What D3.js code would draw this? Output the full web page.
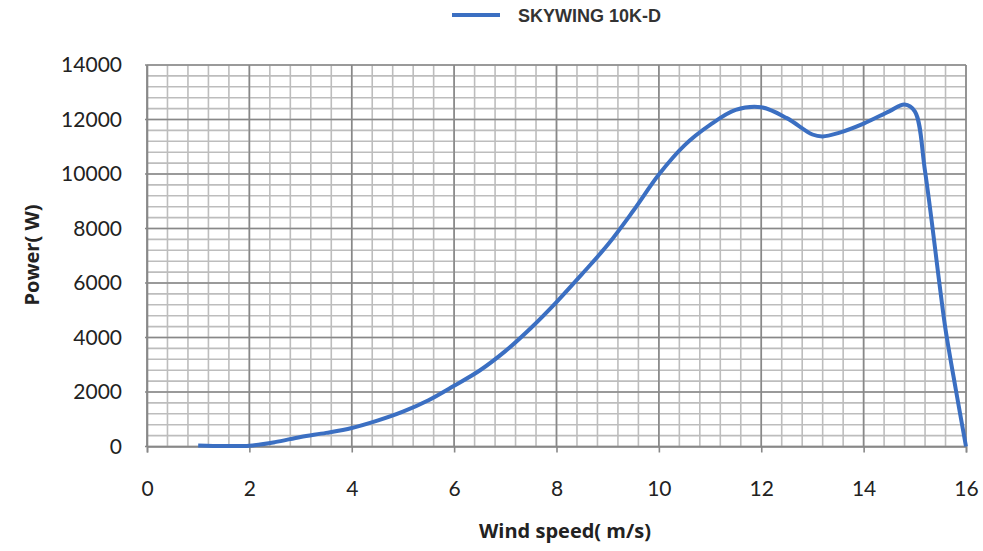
<!DOCTYPE html>
<html><head><meta charset="utf-8">
<script src="https://cdn.jsdelivr.net/npm/d3@7"></script>
<style>body{margin:0;background:#fff}svg{display:block}</style>
</head><body>
<svg id="c" width="983" height="551"></svg>
<script>
const seriesName = "SKYWING 10K-D";
const windSpeed = [1,1.5,2,2.5,3,3.5,4,4.5,5,5.5,6,6.5,7,7.5,8,8.5,9,9.5,10,10.5,11,11.5,12,12.5,13,13.2,13.5,14,14.5,14.8,15,15.2,15.5,15.6,15.8,16];
const power =     [40,20,30,160,350,500,680,950,1280,1700,2230,2790,3500,4350,5300,6330,7400,8650,9980,11050,11800,12350,12450,12050,11450,11380,11500,11850,12300,12550,12300,10100,5700,4300,2100,0];
const xTicks = [0,2,4,6,8,10,12,14,16];
const yTicks = [0,2000,4000,6000,8000,10000,12000,14000];
const xTitle = "Wind speed( m/s)";
const yTitle = "Power( W)";

const svg = d3.select("#c");
const L=147, R=966, T=65, B=446.5;
const x = d3.scaleLinear().domain([0,16]).range([L,R]);
const y = d3.scaleLinear().domain([0,14000]).range([B,T]);
const FONT = "Lato, 'Open Sans', sans-serif";
const TFONT = "'Open Sans', sans-serif";

// minor grid
const g = svg.append("g");
g.selectAll("line.mx").data(d3.range(0,16.001,0.4)).join("line")
  .attr("x1",d=>x(d)).attr("x2",d=>x(d)).attr("y1",T).attr("y2",B)
  .attr("stroke","#bdbdbd").attr("stroke-width",1.6);
g.selectAll("line.my").data(d3.range(0,14001,400)).join("line")
  .attr("y1",d=>y(d)).attr("y2",d=>y(d)).attr("x1",L).attr("x2",R)
  .attr("stroke","#bdbdbd").attr("stroke-width",1.6);
// major grid
g.selectAll("line.Mx").data(xTicks).join("line")
  .attr("x1",d=>x(d)).attr("x2",d=>x(d)).attr("y1",T).attr("y2",B)
  .attr("stroke","#888").attr("stroke-width",1.6);
g.selectAll("line.My").data(yTicks).join("line")
  .attr("y1",d=>y(d)).attr("y2",d=>y(d)).attr("x1",L-2).attr("x2",R)
  .attr("stroke","#888").attr("stroke-width",1.6);

// x axis
const xa = svg.append("g").attr("transform",`translate(0,${B})`)
  .call(d3.axisBottom(x).tickValues(xTicks).tickSize(6).tickPadding(31).tickFormat(d3.format("d")));
xa.select(".domain").attr("stroke","#888").attr("stroke-width",1.6);
xa.selectAll(".tick line").attr("stroke","#888").attr("stroke-width",1.6);
xa.selectAll("text").attr("font-family",FONT).attr("font-size",21).attr("fill","#222").attr("dy","0.6em");

// y axis
const ya = svg.append("g").attr("transform",`translate(${L},0)`)
  .call(d3.axisLeft(y).tickValues(yTicks).tickSize(0).tickPadding(25).tickFormat(d3.format("d")));
ya.select(".domain").attr("stroke","#888").attr("stroke-width",1.6);
ya.selectAll("text").attr("font-family",FONT).attr("font-size",21).attr("fill","#222");

// line
const line = d3.line().x((d,i)=>x(windSpeed[i])).y(d=>y(d)).curve(d3.curveCatmullRom.alpha(0.5));
svg.append("path").datum(power).attr("d",line).attr("fill","none")
  .attr("stroke","#3b6fc2").attr("stroke-width",4).attr("stroke-linejoin","round");

// titles
svg.append("text").attr("x",565).attr("y",538).attr("text-anchor","middle")
  .attr("font-family",TFONT).attr("font-weight","bold").attr("font-size",20).attr("fill","#222")
  .text(xTitle);
svg.append("text").attr("transform","translate(39,255) rotate(-90)").attr("text-anchor","middle")
  .attr("font-family",TFONT).attr("font-weight","bold").attr("font-size",20).attr("fill","#222")
  .text(yTitle);

// legend
svg.append("line").attr("x1",452).attr("x2",500).attr("y1",15).attr("y2",15)
  .attr("stroke","#3b6fc2").attr("stroke-width",4);
svg.append("text").attr("x",518).attr("y",22).attr("font-family","'Liberation Sans', Arial, sans-serif")
  .attr("font-weight","bold").attr("font-size",18).attr("fill","#333").text(seriesName);
</script>
</body></html>
